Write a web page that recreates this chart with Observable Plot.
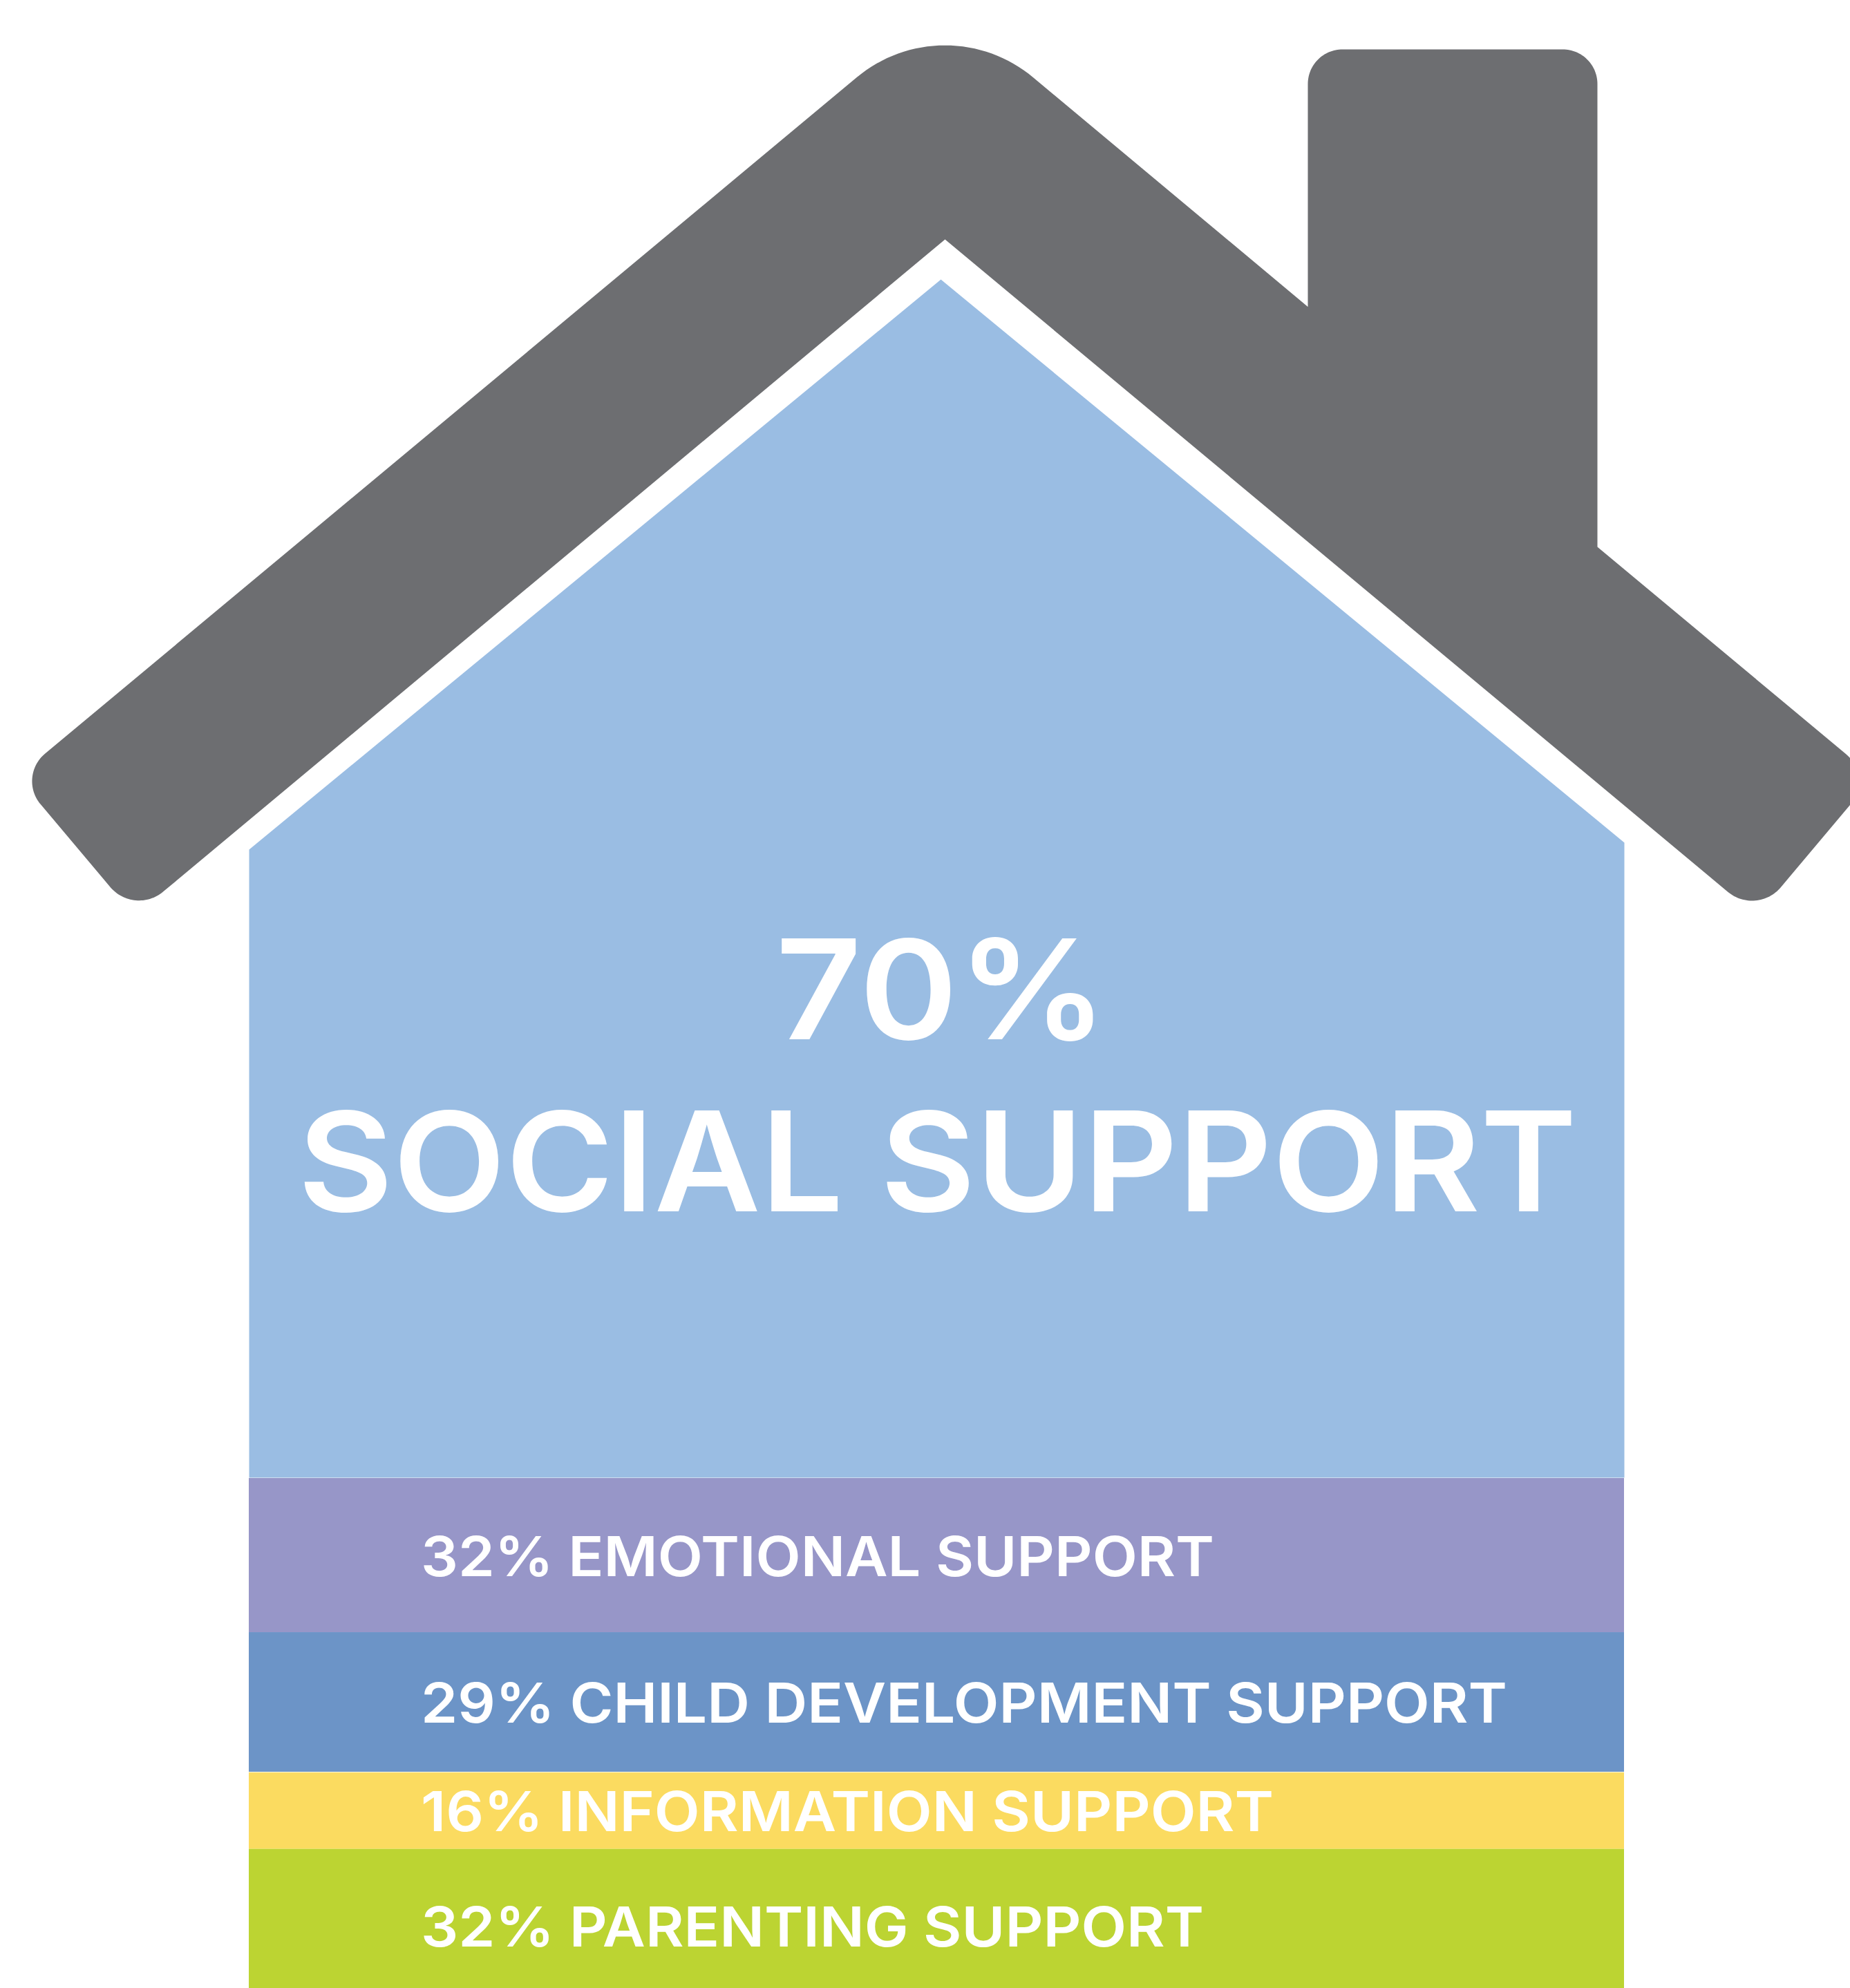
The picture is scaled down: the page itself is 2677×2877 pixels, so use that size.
<!DOCTYPE html>
<html>
<head>
<meta charset="utf-8">
<style>
  html, body { margin: 0; padding: 0; background: #fff; overflow: hidden; }
  svg { display: block; }
</style>
<script src="https://cdn.jsdelivr.net/npm/d3@7"></script>
<script src="https://cdn.jsdelivr.net/npm/@observablehq/plot@0.6"></script>
</head>
<body>
<div id="chart"></div>
<script>
// Headline figure and the four kinds of support
const headlineValue = "70%";
const headlineLabel = "SOCIAL SUPPORT";
const supportKinds = ["EMOTIONAL SUPPORT", "CHILD DEVELOPMENT SUPPORT", "INFORMATION SUPPORT", "PARENTING SUPPORT"];
const supportShares = [32, 29, 16, 32];
const supportColors = ["#9796c8", "#6c94c7", "#fbdb60", "#bcd432"];
const supportWidths = [1148, 1572, 1234, 1133];

// House outline: corner positions, with the length each corner is rounded back along its edges
const roofX = [24.6, 1367, 1892, 1892, 2311, 2311, 2710.6, 2541.5, 1367, 194];
const roofY = [1123.6, 5, 443.5, 71, 71, 791, 1124, 1325, 346, 1324.7];
const roofRound = [52, 166, 0, 50, 50, 0, 52, 54, 0, 54];
const wallX = [360, 1361, 2350, 2350, 360];
const wallY = [1229, 404, 1219, 2138, 2138];

const width = 2677;
const height = 2877;
const bandTop = 2139;   // where the stack of bands begins
const pxPerPoint = 6.97;
const toShareAxis = (py) => (py - bandTop) / pxPerPoint;

// Expands rounded corners into short arc segments
function roundedOutline(xs, ys, rounds) {
  const n = xs.length, pts = [];
  for (let i = 0; i < n; ++i) {
    const px = xs[i], py = ys[i], t = rounds[i];
    if (!t) { pts.push({x: px, y: py}); continue; }
    const ax = xs[(i + n - 1) % n] - px, ay = ys[(i + n - 1) % n] - py;
    const bx = xs[(i + 1) % n] - px, by = ys[(i + 1) % n] - py;
    const al = Math.hypot(ax, ay), bl = Math.hypot(bx, by);
    const ux = ax / al, uy = ay / al, vx = bx / bl, vy = by / bl;
    const half = Math.acos(ux * vx + uy * vy) / 2;
    const r = t * Math.tan(half);
    const ml = Math.hypot(ux + vx, uy + vy);
    const cd = t / Math.cos(half);
    const cx = px + (ux + vx) / ml * cd, cy = py + (uy + vy) / ml * cd;
    let a0 = Math.atan2(py + uy * t - cy, px + ux * t - cx);
    let a1 = Math.atan2(py + vy * t - cy, px + vx * t - cx);
    let da = a1 - a0;
    while (da > Math.PI) da -= 2 * Math.PI;
    while (da < -Math.PI) da += 2 * Math.PI;
    for (let k = 0; k <= 32; ++k) {
      const a = a0 + da * k / 32;
      pts.push({x: cx + r * Math.cos(a), y: cy + r * Math.sin(a)});
    }
  }
  pts.push(pts[0]);
  return pts;
}

const roof = roundedOutline(roofX, roofY, roofRound);
const walls = wallX.map((x, i) => ({x, y: wallY[i]}));
const bands = supportKinds.map((kind, i) => ({
  kind,
  share: supportShares[i],
  label: `${supportShares[i]}% ${kind}`,
  fit: supportWidths[i]
}));
const headline = [
  {text: headlineValue, x: 1362, py: 1439, size: 200, fit: 480},
  {text: headlineLabel, x: 1356, py: 1688.7, size: 200, fit: 1851}
];

const chart = Plot.plot({
  width,
  height,
  margin: 0,
  style: {background: "#fff", fontFamily: "Inter, sans-serif"},
  x: {domain: [0, width], range: [0, width], axis: null},
  y: {domain: [toShareAxis(0), toShareAxis(height)], range: [0, height], clamp: true, axis: null},
  color: {domain: supportKinds, range: supportColors},
  marks: [
    Plot.line(walls, {x: "x", y: (d) => toShareAxis(d.y), fill: "#9abde3", stroke: "none"}),
    Plot.line(roof, {x: "x", y: (d) => toShareAxis(d.y), fill: "#6d6e71", stroke: "none", clip: true}),
    Plot.rectY(bands, {
      x1: () => 360,
      x2: () => 2350,
      y: "share",
      fill: "kind",
      order: null
    }),
    // Thin seam where the blue band meets the yellow one
    Plot.ruleY([supportShares[0] + supportShares[1]], {
      x1: () => 360,
      x2: () => 2350,
      stroke: "white",
      strokeWidth: 1,
      strokeOpacity: 0.8
    }),
    Plot.text(bands, Plot.stackY({
      x: () => 608.5,
      y: "share",
      text: "label",
      order: null,
      textAnchor: "start",
      dy: 4,
      fill: "white",
      fontSize: 80,
      fontWeight: 600
    })),
    Plot.text(headline, {
      x: "x",
      y: (d) => toShareAxis(d.py),
      text: "text",
      textAnchor: "middle",
      fill: "white",
      fontSize: "size",
      fontWeight: 600
    })
  ]
});

// Stretch each label to its set width, since the sans faces here run narrower than the display face
const fits = [...bands.map((d) => d.fit), ...headline.map((d) => d.fit)];
d3.select(chart).selectAll("text").each(function (_, i) {
  this.setAttribute("textLength", fits[i]);
  this.setAttribute("lengthAdjust", "spacingAndGlyphs");
});

document.getElementById("chart").appendChild(chart);
</script>
</body>
</html>
